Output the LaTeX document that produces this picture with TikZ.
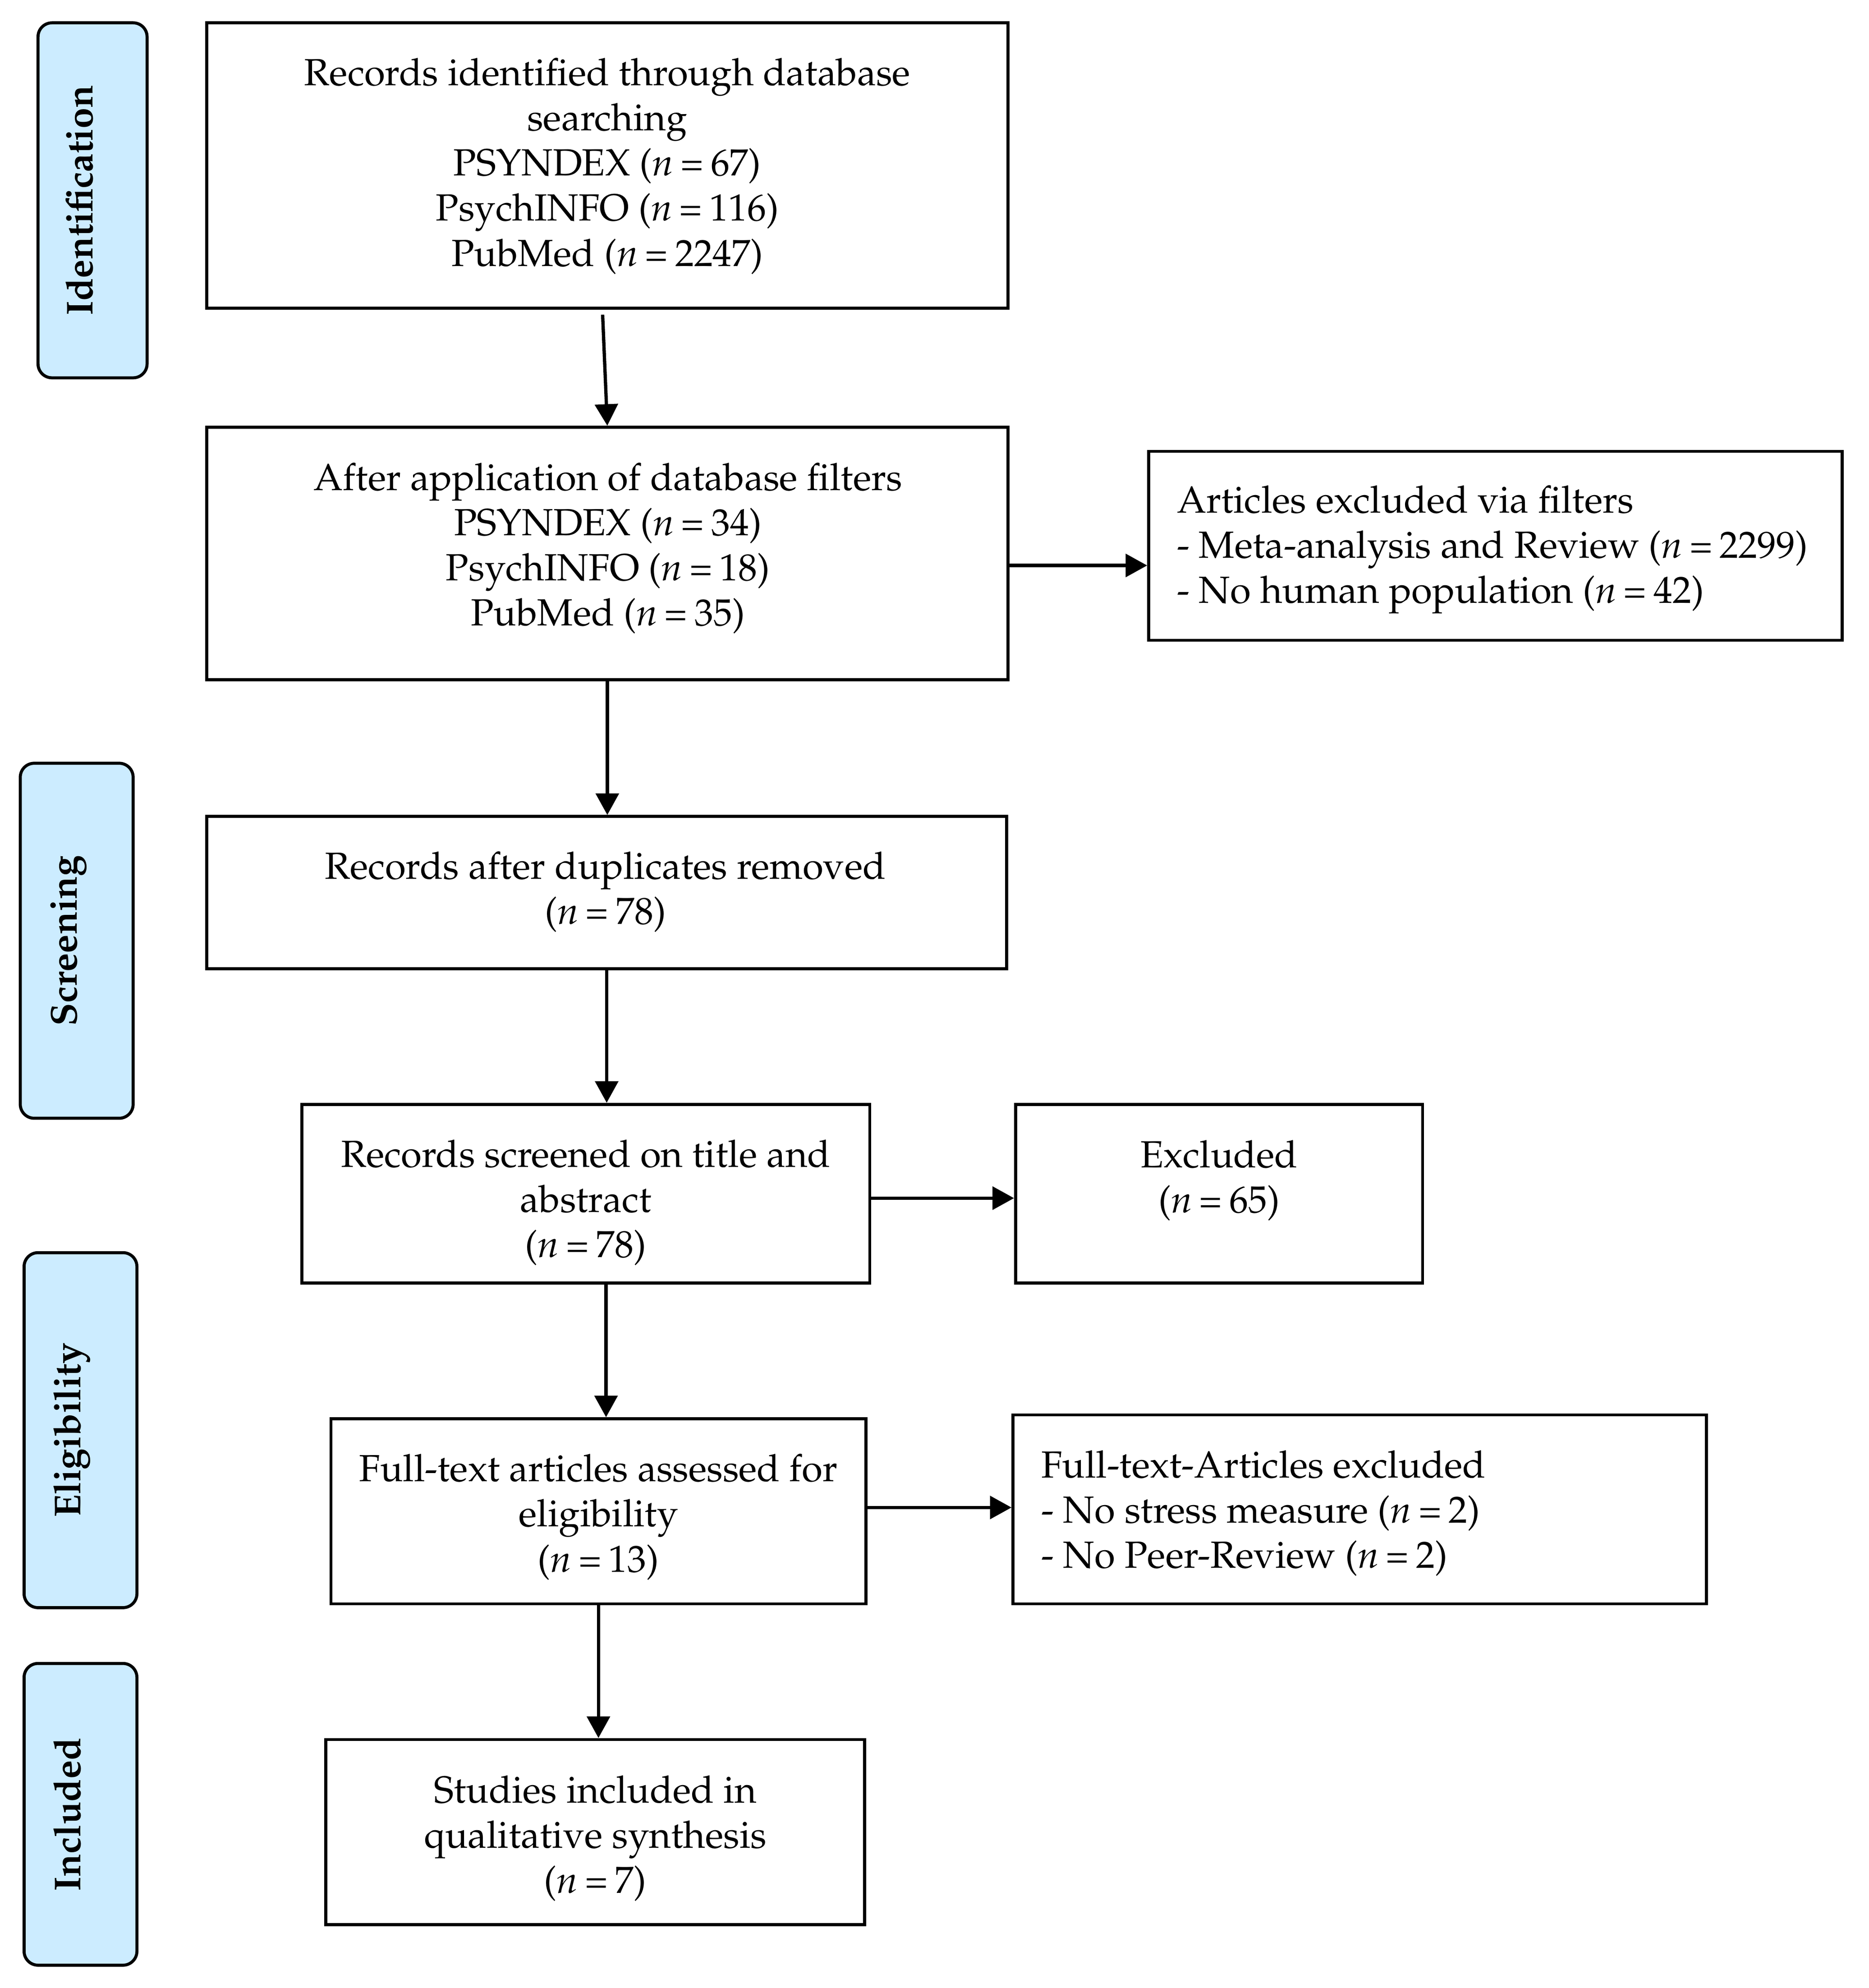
\documentclass[tikz,border=0pt]{standalone}
\usepackage[T1]{fontenc}
\usepackage{mathpazo}
\usetikzlibrary{arrows.meta,calc}
\definecolor{phase}{RGB}{204,236,255}
\newcommand{\nn}[1]{(\textit{n}\hspace{0.19em}=\hspace{0.19em}#1)}
\begin{document}
\begin{tikzpicture}[x=1pt,y=-1pt,
  font=\fontsize{29.8}{35.6}\selectfont,
  box/.style={draw,line width=2.4pt,inner sep=0pt},
  phasebox/.style={draw,line width=2.4pt,fill=phase,rounded corners=11pt,inner sep=0pt},
  phasetxt/.style={rotate=90,anchor=base,inner sep=0pt,font=\fontsize{29.5}{35.6}\selectfont\bfseries},
  txt/.style={align=center,inner sep=0pt},
  ltxt/.style={align=left,inner sep=0pt,anchor=west},
  arr/.style={line width=2.6pt,-{Triangle[length=17pt,width=18pt]}}]
\useasboundingbox (0,0) rectangle (1474,1568);

% phase labels
\node[phasebox,minimum width=86pt,minimum height=280pt] (s1) at (73,158) {};
\node[phasetxt] (s1t) at (s1.center) {Identification};
\node[phasebox,minimum width=89pt,minimum height=280pt] (s2) at (60.5,742) {};
\node[phasetxt] (s2t) at (s2.center) {Screening};
\node[phasebox,minimum width=89pt,minimum height=280pt] (s3) at (63.5,1128) {};
\node[phasetxt] (s3t) at (s3.center) {Eligibility};
\node[phasebox,minimum width=89pt,minimum height=238pt] (s4) at (63.5,1431) {};
\node[phasetxt] (s4t) at (s4.center) {Included};

% boxes
\node[box,minimum width=632pt,minimum height=225pt] (b1) at (479,130.5) {};
\node[txt] (t1) at (479,131) {Records identified through database\\searching\\PSYNDEX \nn{67}\\PsychINFO \nn{116}\\PubMed \nn{2247}};

\node[box,minimum width=632pt,minimum height=199pt] (b2) at (479,436.5) {};
\node[txt] (t2) at (479.5,432.5) {After application of database filters\\PSYNDEX \nn{34}\\PsychINFO \nn{18}\\PubMed \nn{35}};

\node[box,minimum width=547pt,minimum height=149pt] (b3) at (1179.5,430.5) {};
\node[ltxt] (t3) at (928,433.5) {Articles excluded via filters\\- Meta-analysis and Review \nn{2299}\\- No human population \nn{42}};

\node[box,minimum width=631pt,minimum height=120pt] (b4) at (478.5,704) {};
\node[txt] (t4) at (477.5,703.5) {Records after duplicates removed\\\nn{78}};

\node[box,minimum width=448pt,minimum height=141pt] (b5) at (462,941.5) {};
\node[txt] (t5) at (462,948.5) {Records screened on title and\\abstract\\\nn{78}};

\node[box,minimum width=321pt,minimum height=141pt] (b6) at (961.5,941.5) {};
\node[txt] (t6) at (961.5,931) {Excluded\\\nn{65}};

\node[box,minimum width=422pt,minimum height=146pt] (b7) at (472,1192) {};
\node[txt] (t7) at (472,1196.5) {Full-text articles assessed for\\eligibility\\\nn{13}};

\node[box,minimum width=547pt,minimum height=149pt] (b8) at (1072.5,1190.5) {};
\node[ltxt] (t8) at (821,1193.5) {Full-text-Articles excluded\\- No stress measure \nn{2}\\- No Peer-Review \nn{2}};

\node[box,minimum width=425pt,minimum height=146pt] (b9) at (469.5,1445) {};
\node[txt] (t9) at (469.5,1450) {Studies included in\\qualitative synthesis\\\nn{7}};

% connectors
\draw[arr] ([xshift=-3.7pt,yshift=-4pt]b1.south) -- (b2.north);
\draw[arr] ([yshift=-9.5pt]b2.east) coordinate (a2) -- (a2 -| b3.west);
\draw[arr] (b2.south) -- (b2.south |- b4.north);
\draw[arr] (b4.south) -- (b4.south |- b5.north);
\draw[arr] ([yshift=-3.5pt]b5.east) coordinate (a5) -- (a5 -| b6.west);
\draw[arr] ([xshift=16pt]b5.south) coordinate (a6) -- (a6 |- b7.north);
\draw[arr] ([yshift=3pt]b7.east) coordinate (a7) -- (a7 -| b8.west);
\draw[arr] (b7.south) -- (b7.south |- b9.north);
\end{tikzpicture}
\end{document}
